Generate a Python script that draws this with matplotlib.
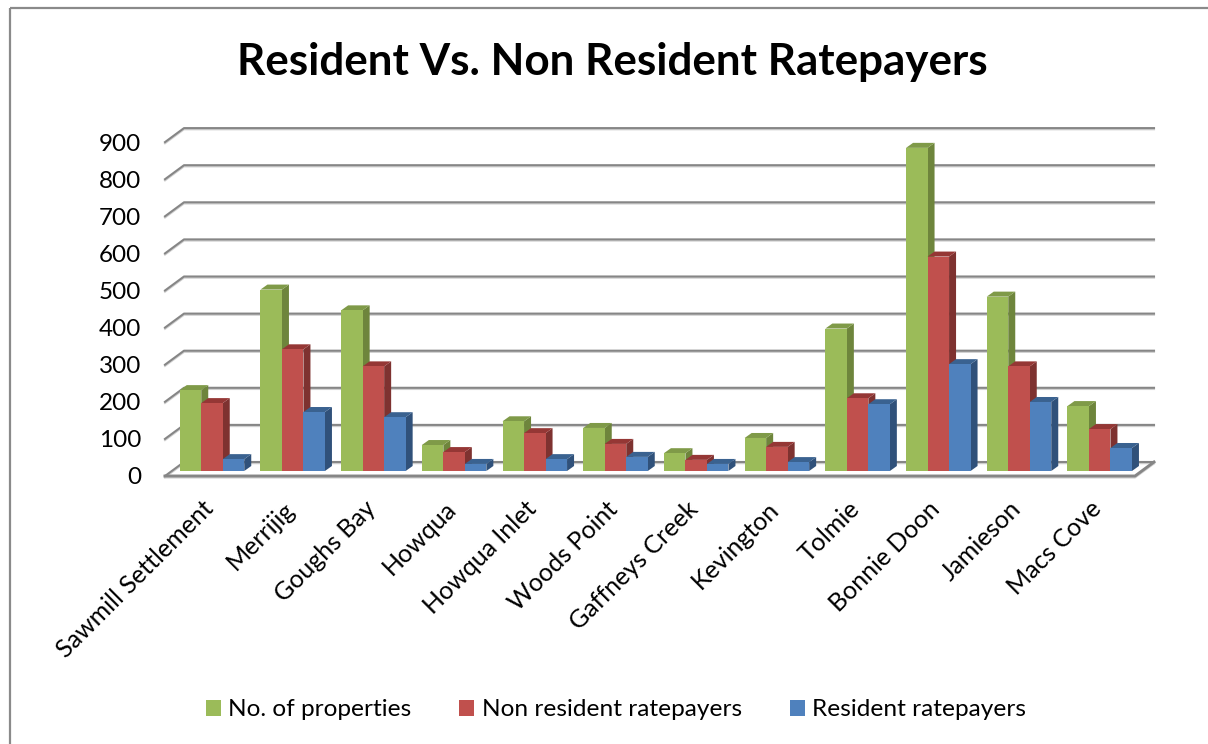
import numpy as np
import matplotlib
matplotlib.use('Agg')
import matplotlib.pyplot as plt
from matplotlib.patches import Patch

plt.rcParams['font.family'] = ['Lato', 'DejaVu Sans']

places = ['Sawmill Settlement', 'Merrijig', 'Goughs Bay', 'Howqua', 'Howqua Inlet',
          'Woods Point', 'Gaffneys Creek', 'Kevington', 'Tolmie', 'Bonnie Doon',
          'Jamieson', 'Macs Cove']
properties = [218, 489, 433, 70, 134, 116, 48, 89, 384, 871, 470, 175]
non_resident = [183, 328, 282, 51, 102, 73, 30, 65, 196, 578, 282, 113]
resident = [32, 159, 145, 19, 32, 38, 19, 24, 180, 288, 186, 62]
y_ticks = [0, 100, 200, 300, 400, 500, 600, 700, 800, 900]

series = [
    ('No. of properties', properties, '#9BBB59', '#6E853C', '#7F9A48'),
    ('Non resident ratepayers', non_resident, '#C0504D', '#7E3230', '#953735'),
    ('Resident ratepayers', resident, '#4F81BD', '#30517A', '#3A6290'),
]

W, H = 1208, 744
PX_X = 80.7    # pixels per category
PX_Y = 0.371   # pixels per unit of value
X0 = 212       # pixel of the first group's centre
Y0 = 471       # pixel row of value 0 at the bars' front

fig = plt.figure(figsize=(W / 100, H / 100), dpi=100)
ax = fig.add_axes([0, 0, 1, 1])
ax.set_xlim(-X0 / PX_X, (W - X0) / PX_X)
ax.set_ylim((Y0 - H) / PX_Y, Y0 / PX_Y)
ax.axis('off')

# helpers for offsets given in pixels
dx = lambda px: px / PX_X
dy = lambda px: px / PX_Y

GRID = '#868686'
SHADOW = '#D0D0D0'
LW = 1.5

back_left = dx(184 - X0)
back_right = dx(1154 - X0)
front_left = dx(165 - X0)
front_right = dx(1135 - X0)
back_up = dy(9)    # back wall zero sits above the bars' base
front_down = dy(5)

# chart frame, only top and left edges fall inside the canvas
ax.plot([dx(10 - X0), dx(10 - X0)], [dy(Y0 - H), dy(Y0 - 8.5)], color='#8A8A8A', lw=1.6, zorder=1,
        solid_capstyle='butt')
ax.plot([dx(10 - X0), dx(W - X0)], [dy(Y0 - 8.5), dy(Y0 - 8.5)], color='#8A8A8A', lw=1.6, zorder=1,
        solid_capstyle='butt')

# back wall gridlines plus the slanted piece on the side wall
for v in y_ticks:
    y_back = v + back_up
    y_front = v - front_down
    ax.plot([front_left, back_left, back_right], [y_front - dy(1.2), y_back - dy(1.2), y_back - dy(1.2)],
            color=SHADOW, lw=LW, zorder=1.5)
    ax.plot([front_left, back_left, back_right], [y_front, y_back, y_back], color=GRID, lw=LW, zorder=2)

# floor outline
ax.plot([back_right, front_right, front_left], [back_up, -front_down, -front_down],
        color=GRID, lw=LW + 0.6, zorder=2)
ax.plot([back_right, front_right, front_left],
        [back_up - dy(1.5), -front_down - dy(1.5), -front_down - dy(1.5)],
        color=SHADOW, lw=LW, zorder=1.5)

bar_w = 21.5 / PX_X
depth_x = dx(7)
depth_y = dy(5)
x = np.arange(len(places))

# each series goes over the previous one so the side faces get hidden correctly
for s, (label, vals, front, side, top) in enumerate(series):
    left = x + (s - 1.5) * bar_w
    z = 3 + s
    for xl, v in zip(left, vals):
        xr = xl + bar_w
        ax.fill([xr, xr + depth_x, xr + depth_x, xr], [0, depth_y, v + depth_y, v], color=side, lw=0, zorder=z)
        ax.fill([xl, xl + depth_x, xr + depth_x, xr], [v, v + depth_y, v + depth_y, v], color=top, lw=0, zorder=z)
    ax.bar(left, vals, width=bar_w, align='edge', color=front, lw=0, zorder=z + 0.1)

# value axis labels
for v in y_ticks:
    ax.annotate(str(v), (dx(141 - X0), v), xytext=(0, -7), textcoords='offset pixels',
                ha='right', va='center', fontsize=17.5, color='black')

# rotated place names, anchored at their right end
for i, name in enumerate(places):
    ax.annotate(name, (i + dx(-2), 0), xytext=(-8, -26), textcoords='offset pixels',
                rotation=45, rotation_mode='anchor', ha='right', va='top',
                fontsize=18, color='black')

ax.text(dx(612 - X0), dy(Y0 - 62), 'Resident Vs. Non Resident Ratepayers', ha='center', va='center',
        fontsize=31.7, fontweight='bold', color='black')

handles = [Patch(facecolor=c[2], edgecolor='none', label=c[0]) for c in series]
fig.legend(handles=handles, loc='center', bbox_to_anchor=(616 / W, 1 - 710 / H), ncol=3, frameon=False,
           fontsize=17.6, handlelength=0.62, handleheight=0.62, handletextpad=0.3, columnspacing=1.95)

plt.savefig('out.png', dpi=100)
